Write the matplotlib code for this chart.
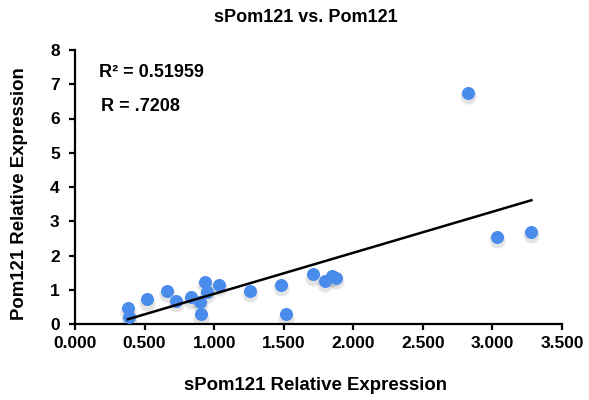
import numpy as np
import matplotlib.pyplot as plt

plt.rcParams['font.family'] = ['Liberation Sans', 'DejaVu Sans']
plt.rcParams['font.weight'] = 'bold'

spom = [0.38, 0.39, 0.516, 0.663, 0.728, 0.836, 0.896, 0.908, 0.937, 0.948,
        1.035, 1.26, 1.483, 1.519, 1.707, 1.795, 1.85, 1.874, 2.827, 3.035, 3.28]
pom = [0.46, 0.21, 0.72, 0.97, 0.68, 0.78, 0.65, 0.28, 1.24, 0.94,
       1.15, 0.97, 1.15, 0.28, 1.45, 1.26, 1.40, 1.35, 6.75, 2.55, 2.69]
xticks = np.arange(0, 3.51, 0.5)
yticks = np.arange(0, 9, 1)

x = np.array(spom)
y = np.array(pom)
m, b = np.polyfit(x, y, 1)
xl = np.array([x.min(), x.max()])

fig = plt.figure(figsize=(5.89, 4), dpi=100)
ax = fig.add_axes([75 / 589, 76 / 400, 487 / 589, 274 / 400])

# soft shadow under each marker
for s_, a_ in [(150, 0.08), (115, 0.12)]:
    ax.scatter(x, y - 0.1, s=s_, color='#707070', alpha=a_, lw=0, zorder=2)
ax.scatter(x, y, s=88, color='#4a8cec', lw=0, zorder=3)
ax.plot(xl, m * xl + b, color='black', lw=1.8, zorder=4)

ax.set_xlim(0, 3.5)
ax.set_ylim(0, 8)
ax.set_xticks(xticks)
ax.set_xticklabels(['%.3f' % t for t in xticks])
ax.set_yticks(yticks)
for s in ['top', 'right']:
    ax.spines[s].set_visible(False)
for s in ['left', 'bottom']:
    ax.spines[s].set_linewidth(1.6)
ax.tick_params(direction='out', length=4, width=1.6, labelsize=12.5)
ax.tick_params(axis='x', pad=5)
ax.tick_params(axis='y', pad=7)

ax.text(0.176, 7.33, 'R² = 0.51959', fontsize=13, fontweight='bold', va='center')
ax.text(0.19, 6.34, 'R = .7208', fontsize=13, fontweight='bold', va='center')

fig.text(306 / 589, 1 - 18 / 400, 'sPom121 vs. Pom121', ha='center', va='center',
         fontsize=13, fontweight='bold')
fig.text(316 / 589, 1 - 385 / 400, 'sPom121 Relative Expression', ha='center', va='center',
         fontsize=13.4, fontweight='bold')
fig.text(20 / 589, 1 - 194 / 400, 'Pom121 Relative Expression', ha='center', va='center',
         rotation=90, fontsize=13.4, fontweight='bold')

fig.savefig('out.png', dpi=100)
